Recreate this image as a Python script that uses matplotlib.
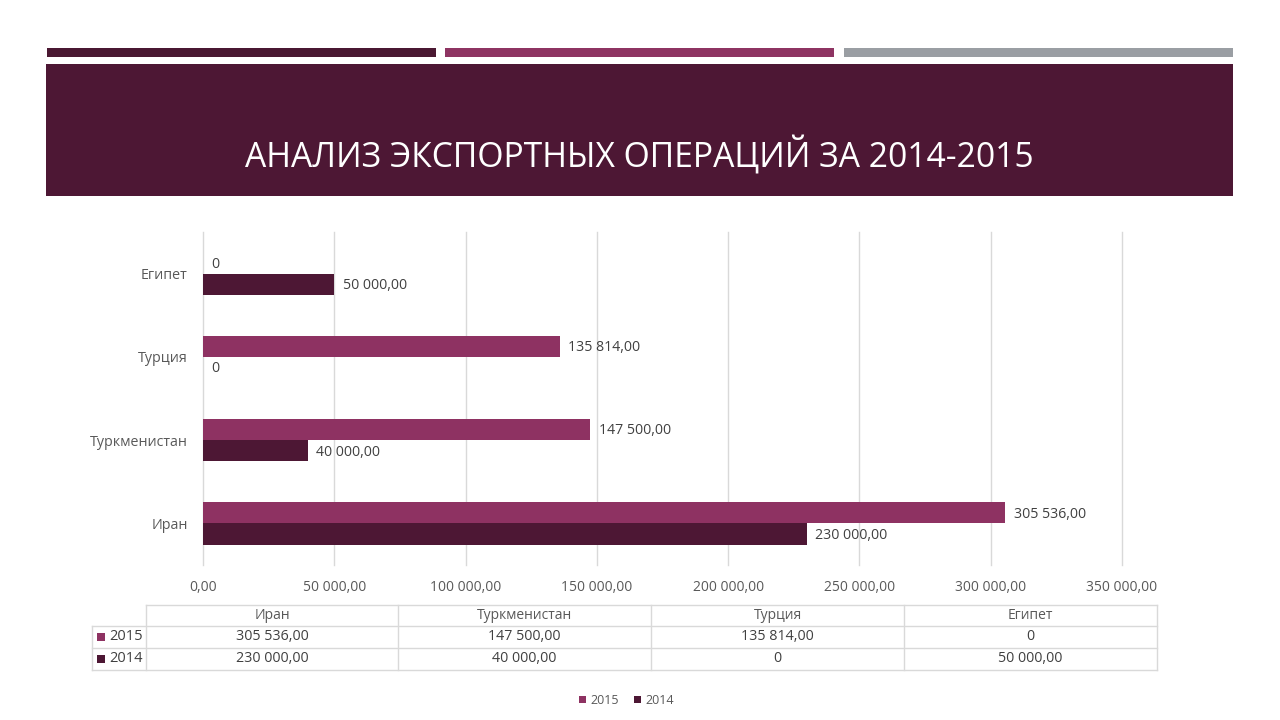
import matplotlib
matplotlib.use("Agg")
import matplotlib.pyplot as plt
from matplotlib.patches import Rectangle
from matplotlib.lines import Line2D

plt.rcParams['font.family'] = ['Open Sans', 'DejaVu Sans']

title = "АНАЛИЗ ЭКСПОРТНЫХ ОПЕРАЦИЙ ЗА 2014-2015"
categories = ["Иран", "Туркменистан", "Турция", "Египет"]
series_names = ["2015", "2014"]
values_2015 = [305536, 147500, 135814, 0]
values_2014 = [230000, 40000, 0, 50000]
x_ticks = [0, 50000, 100000, 150000, 200000, 250000, 300000, 350000]

C2015 = "#8e3262"
C2014 = "#4d1734"
GRID = "#d9d9d9"
TXT = "#595959"
VAL = "#404040"

W, H = 1280, 720
fig = plt.figure(figsize=(12.8, 7.2), dpi=100)
fig.patch.set_facecolor("white")


def fx(x):
    return x / W


def fy(y):
    return 1 - y / H


def rect(x0, y0, x1, y1, color):
    fig.add_artist(Rectangle((fx(x0), fy(y1)), fx(x1) - fx(x0), fy(y0) - fy(y1),
                             transform=fig.transFigure, facecolor=color,
                             edgecolor="none"))


def hline(x0, x1, y, color=GRID, lw=1):
    fig.add_artist(Line2D([fx(x0), fx(x1)], [fy(y), fy(y)], transform=fig.transFigure,
                          color=color, lw=lw))


def vline(x, y0, y1, color=GRID, lw=1):
    fig.add_artist(Line2D([fx(x), fx(x)], [fy(y0), fy(y1)], transform=fig.transFigure,
                          color=color, lw=lw))


def fmt(v):
    if v == 0:
        return "0"
    s = f"{v:,.2f}"
    return s.replace(",", " ").replace(".", ",")


# header stripes and banner
rect(47, 48, 436, 57, "#4a1832")
rect(445, 48, 834, 57, "#8e3462")
rect(844, 48, 1233, 57, "#9a9ea3")
rect(46, 64, 1233, 196, "#4d1734")
fig.text(fx(639), fy(156), title, color="white", fontsize=24.2, ha="center",
         va="center")

# chart
ax = fig.add_axes([fx(203), fy(565), fx(1122) - fx(203), fy(232) - fy(565)])
n = len(categories)
ypos = list(range(n))
bh = 0.255
ax.barh([y + bh / 2 for y in ypos], values_2015, height=bh, color=C2015, zorder=3)
ax.barh([y - bh / 2 for y in ypos], values_2014, height=bh, color=C2014, zorder=3)
for y, v in zip(ypos, values_2015):
    ax.annotate(fmt(v), (v, y + bh / 2), xytext=(6, -1), textcoords="offset points",
                va="center", ha="left", fontsize=10.2, color=VAL)
for y, v in zip(ypos, values_2014):
    ax.annotate(fmt(v), (v, y - bh / 2), xytext=(6, -1), textcoords="offset points",
                va="center", ha="left", fontsize=10.2, color=VAL)

ax.set_xlim(0, 350000)
ax.set_ylim(-0.5, n - 0.5)
ax.set_xticks(x_ticks)
ax.set_xticklabels([fmt(t) if t else "0,00" for t in x_ticks], fontsize=10, color=TXT)
ax.set_yticks(ypos)
ax.set_yticklabels(categories, fontsize=10.3, color=TXT)
ax.tick_params(axis="both", length=0)
ax.tick_params(axis="x", pad=11)
ax.tick_params(axis="y", pad=11)
ax.grid(axis="x", color=GRID, lw=1, zorder=0)
for gl in ax.get_xgridlines():
    gl.set_clip_on(False)
for s in ax.spines.values():
    s.set_visible(False)
ax.set_facecolor("none")

# data table
col_edges = [146, 398, 651, 904, 1157]
row_edges = [605, 626, 648, 670]
key_left = 92
hline(col_edges[0], col_edges[-1], row_edges[0])
for y in row_edges[1:]:
    hline(key_left, col_edges[-1], y)
vline(key_left, row_edges[1], row_edges[-1])
for x in col_edges:
    vline(x, row_edges[0], row_edges[-1])
for i, c in enumerate(categories):
    xc = (col_edges[i] + col_edges[i + 1]) / 2
    fig.text(fx(xc), fy((row_edges[0] + row_edges[1]) / 2), c, ha="center",
             va="center", fontsize=10, color=TXT)
rows = [(series_names[0], values_2015, C2015), (series_names[1], values_2014, C2014)]
for r, (name, vals, col) in enumerate(rows):
    yc = (row_edges[r + 1] + row_edges[r + 2]) / 2
    rect(97, yc - 4, 105, yc + 4, col)
    fig.text(fx(109), fy(yc), name, ha="left", va="center", fontsize=10.5, color=VAL)
    for i, v in enumerate(vals):
        xc = (col_edges[i] + col_edges[i + 1]) / 2
        fig.text(fx(xc), fy(yc), fmt(v), ha="center", va="center", fontsize=10.3,
                 color=VAL)

# legend
lx = 579
for name, col in zip(series_names, [C2015, C2014]):
    rect(lx, 696, lx + 7, 703, col)
    fig.text(fx(lx + 11), fy(700), name, ha="left", va="center", fontsize=9,
             color=TXT)
    lx += 55

fig.savefig("out.png", dpi=100)
